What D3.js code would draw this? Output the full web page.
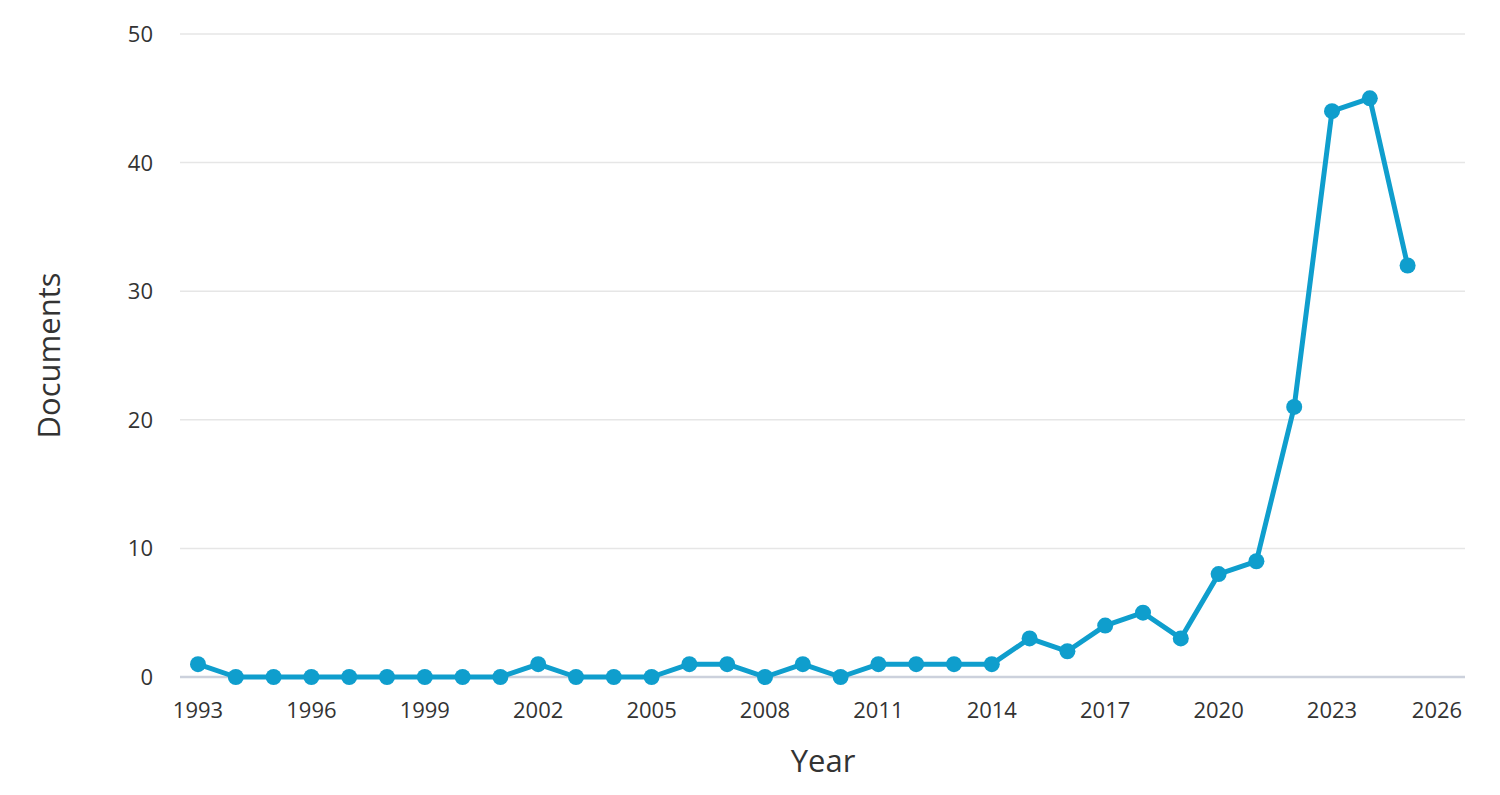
<!DOCTYPE html>
<html>
<head>
  <meta charset="utf-8">
  <title>Documents by year</title>
  <style>
    html, body { margin: 0; padding: 0; background: #fff; }
    body { font-family: "Open Sans", sans-serif; }
    svg { display: block; }
  </style>
</head>
<body>
  <svg width="1500" height="795"></svg>
  <script src="https://d3js.org/d3.v7.min.js"></script>
  <script>
    const years = d3.range(1993, 2026);
    const documents = [1, 0, 0, 0, 0, 0, 0, 0, 0, 1, 0, 0, 0, 1, 1, 0, 1, 0, 1, 1, 1, 1, 3, 2, 4, 5, 3, 8, 9, 21, 44, 45, 32];
    const xTicks = d3.range(1993, 2027, 3);
    const yTicks = [0, 10, 20, 30, 40, 50];

    const data = years.map((y, i) => ({ year: y, value: documents[i] }));

    const svg = d3.select("svg");
    const plotLeft = 180, plotRight = 1465, plotTop = 34, plotBottom = 677;

    // 1993 sits at x=198, 2023 at x=1332
    const x = d3.scaleLinear().domain([1993, 2023]).range([198, 1332]);
    const y = d3.scaleLinear().domain([0, 50]).range([plotBottom, plotTop]);

    // gridlines
    svg.append("g").selectAll("line")
      .data(yTicks.filter(d => d > 0)).enter()
      .append("line")
      .attr("x1", plotLeft).attr("x2", plotRight)
      .attr("y1", d => y(d)).attr("y2", d => y(d))
      .attr("stroke", "#e6e6e6").attr("stroke-width", 1.5);

    // baseline
    svg.append("line")
      .attr("x1", plotLeft).attr("x2", plotRight)
      .attr("y1", y(0)).attr("y2", y(0))
      .attr("stroke", "#ccd1dc").attr("stroke-width", 2.5);

    // y tick labels
    svg.append("g").selectAll("text")
      .data(yTicks).enter()
      .append("text")
      .attr("x", 153).attr("y", d => y(d))
      .attr("dy", "0.36em")
      .attr("text-anchor", "end")
      .attr("font-size", 22)
      .attr("fill", "#333")
      .text(d => d);

    // x tick labels (last one is kept inside the plot, like the original)
    svg.append("g").selectAll("text")
      .data(xTicks).enter()
      .append("text")
      .attr("x", d => Math.min(x(d), plotRight - 28))
      .attr("y", 718)
      .attr("text-anchor", "middle")
      .attr("font-size", 22)
      .attr("fill", "#333")
      .text(d => d);

    // axis titles
    svg.append("text")
      .attr("x", 823).attr("y", 772)
      .attr("text-anchor", "middle")
      .attr("font-size", 31)
      .attr("fill", "#333")
      .text("Year");

    svg.append("text")
      .attr("transform", "translate(60," + ((plotTop + plotBottom) / 2) + ") rotate(-90)")
      .attr("text-anchor", "middle")
      .attr("font-size", 31)
      .attr("fill", "#333")
      .text("Documents");

    // line + markers
    const color = "#0f9ecd";
    const line = d3.line().x(d => x(d.year)).y(d => y(d.value));

    svg.append("path")
      .datum(data)
      .attr("d", line)
      .attr("fill", "none")
      .attr("stroke", color)
      .attr("stroke-width", 5)
      .attr("stroke-linejoin", "round");

    svg.append("g").selectAll("circle")
      .data(data).enter()
      .append("circle")
      .attr("cx", d => x(d.year)).attr("cy", d => y(d.value))
      .attr("r", 8)
      .attr("fill", color);
  </script>
</body>
</html>
